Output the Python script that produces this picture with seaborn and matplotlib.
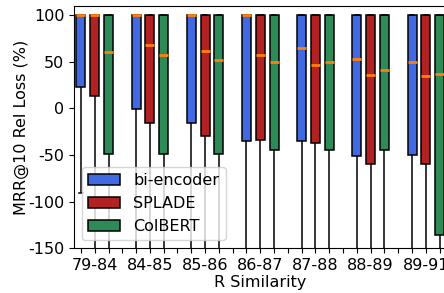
import numpy as np
import pandas as pd
import matplotlib
matplotlib.use("Agg")
import matplotlib.pyplot as plt
import seaborn as sns

# similarity bins on the x axis
groups = ["79-84", "84-85", "85-86", "86-87", "87-88", "88-89", "89-91"]
models = ["bi-encoder", "SPLADE", "ColBERT"]
colors = ["royalblue", "firebrick", "seagreen"]

# lower whisker end, Q1, median (Q3 and max are 100)
bi_low = [-91, -250, -250, -250, -250, -250, -250]
bi_q1 = [23, -1, -16, -35, -35, -51, -50]
bi_med = [100, 100, 100, 100, 65, 53, 50]

splade_low = [-250, -250, -250, -250, -250, -250, -250]
splade_q1 = [13, -16, -30, -34, -37, -60, -60]
splade_med = [100, 68, 62, 57, 47, 36, 35]

colbert_low = [-250, -250, -250, -250, -250, -250, -250]
colbert_q1 = [-49, -49, -49, -45, -45, -45, -136]
colbert_med = [61, 57, 52, 50, 50, 41, 37]

q3 = 100
top = 100

stats = {
    "bi-encoder": (bi_low, bi_q1, bi_med),
    "SPLADE": (splade_low, splade_q1, splade_med),
    "ColBERT": (colbert_low, colbert_q1, colbert_med),
}

rows = []
for g in range(len(groups)):
    for k, m in enumerate(models):
        low, q1, med = stats[m]
        pos = 4 * g + k + 1
        # five points whose quartiles are exactly the read-off values
        for v in [low[g], q1[g], med[g], q3, top]:
            rows.append({"pos": pos, "model": m, "value": v})
df = pd.DataFrame(rows)

fig = plt.figure(figsize=(4.44, 2.93), dpi=100)
ax = fig.add_axes([0.1667, 0.1526, 0.839, 0.827])

sns.boxplot(data=df, x="pos", y="value", hue="model", hue_order=models,
            palette=colors, native_scale=True, dodge=False, width=0.65,
            whis=(0, 100), saturation=1, linecolor="black", linewidth=1.1,
            medianprops=dict(color="#ff7f0e", linewidth=2), ax=ax)

n_pos = 4 * len(groups) - 1
ticks = np.arange(1, n_pos + 1)
labels = [""] * n_pos
for g, name in enumerate(groups):
    labels[4 * g + 1] = name
ax.set_xticks(ticks)
ax.set_xticklabels(labels, fontsize=11.5)
ax.set_xlim(0.5, n_pos + 0.5)

ax.set_ylim(-150, 110)
ax.set_yticks([-150, -100, -50, 0, 50, 100])
ax.set_yticklabels(["-150", "-100", "-50", "0", "50", "100"], fontsize=11.5)
ax.set_xlabel("R Similarity", fontsize=11.5, labelpad=1.5)
ax.set_ylabel("MRR@10 Rel Loss (%)", fontsize=11.5, labelpad=-1)

ax.legend(loc="lower left", fontsize=11.5)

fig.savefig("out.png", dpi=100)
